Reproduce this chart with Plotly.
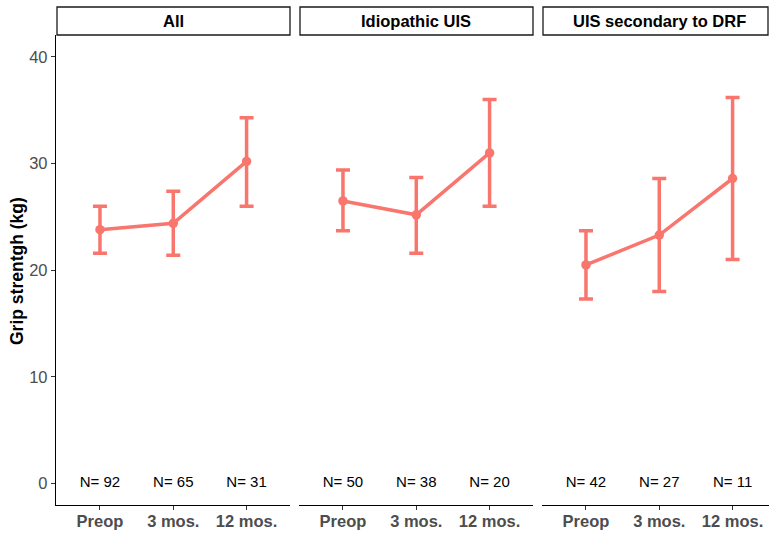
import plotly.graph_objects as go

# Grip strength (kg) by follow-up time, faceted by group
groups = ["All", "Idiopathic UIS", "UIS secondary to DRF"]
timepoints = ["Preop", "3 mos.", "12 mos."]

mean_all = [23.8, 24.4, 30.2]
low_all = [21.6, 21.4, 26.0]
high_all = [26.0, 27.4, 34.3]
n_all = [92, 65, 31]

mean_idio = [26.5, 25.2, 31.0]
low_idio = [23.7, 21.6, 26.0]
high_idio = [29.4, 28.7, 36.0]
n_idio = [50, 38, 20]

mean_drf = [20.5, 23.3, 28.6]
low_drf = [17.3, 18.0, 21.0]
high_drf = [23.7, 28.6, 36.2]
n_drf = [42, 27, 11]

means = [mean_all, mean_idio, mean_drf]
lows = [low_all, low_idio, low_drf]
highs = [high_all, high_idio, high_drf]
counts = [n_all, n_idio, n_drf]

W, H = 769, 533
RED = "#F8766D"
FONT = "Liberation Sans, Arial, sans-serif"

# panel pixel extents (left, right)
panels_px = [(56, 290), (299, 533), (542, 769)]
top_px, bottom_px = 35, 505
strip_top_px = 7
unit_px = 73.3  # pixels per category step

fig = go.Figure()
layout = {}
shapes = []
annotations = []

for i, (g, m, lo, hi, n) in enumerate(zip(groups, means, lows, highs, counts)):
    k = "" if i == 0 else str(i + 1)
    xa, ya = "x" + k, "y" + k
    fig.add_trace(go.Scatter(
        x=timepoints, y=m, xaxis=xa, yaxis=ya, mode="lines+markers",
        line=dict(color=RED, width=3.5), marker=dict(color=RED, size=9.5),
        error_y=dict(type="data", symmetric=False,
                     array=[h - v for h, v in zip(hi, m)],
                     arrayminus=[v - l for v, l in zip(m, lo)],
                     color=RED, thickness=3.5, width=7),
        showlegend=False, hoverinfo="skip"))
    fig.add_trace(go.Scatter(
        x=timepoints, y=[0] * 3, xaxis=xa, yaxis=ya, mode="text",
        text=[f"N= {c}" for c in n], textposition="middle center",
        textfont=dict(family=FONT, size=15, color="black"),
        showlegend=False, hoverinfo="skip"))

    left, right = panels_px[i]
    full_right = left + 3.2 * unit_px
    xmax = 2.6 - max(0.0, full_right - right) / unit_px
    layout["xaxis" + k] = dict(
        domain=[left / W, right / W], anchor=ya, type="category",
        categoryorder="array", categoryarray=timepoints,
        range=[-0.6, xmax], showgrid=False, zeroline=False,
        showline=True, linecolor="black", linewidth=1.3,
        ticks="outside", ticklen=4, tickcolor="#333333", tickwidth=1.1,
        ticklabelstandoff=-3,
        tickfont=dict(family=FONT, size=16.5, color="#4d4d4d", weight="bold"))
    layout["yaxis" + k] = dict(
        domain=[1 - bottom_px / H, 1 - top_px / H], anchor=xa,
        range=[-2, 42.05], showgrid=False, zeroline=False,
        tickvals=[0, 10, 20, 30, 40],
        showline=(i == 0), linecolor="black", linewidth=1.3,
        ticks="outside" if i == 0 else "", ticklen=4,
        tickcolor="#333333", tickwidth=1.1, showticklabels=(i == 0),
        tickfont=dict(family=FONT, size=16.5, color="#4d4d4d"))

    # facet strip
    shapes.append(dict(type="rect", xref="paper", yref="paper",
                       x0=(left + 1) / W, x1=min(right, W - 1) / W,
                       y0=1 - top_px / H, y1=1 - strip_top_px / H,
                       line=dict(color="#1a1a1a", width=1.3),
                       fillcolor="white"))
    annotations.append(dict(text=f"<b>{g}</b>", xref="paper", yref="paper",
                            x=(left + left + 3.2 * unit_px) / 2 / W,
                            y=1 - (top_px + strip_top_px) / 2 / H,
                            showarrow=False, xanchor="center", yanchor="middle",
                            font=dict(family=FONT, size=16.5, color="black")))

annotations.append(dict(text="<b>Grip strentgh (kg)</b>", xref="paper", yref="paper",
                        x=17 / W, y=1 - (196 + 346) / 2 / H,
                        textangle=-90, showarrow=False,
                        xanchor="center", yanchor="middle",
                        font=dict(family=FONT, size=17.5, color="black")))

fig.update_layout(width=W, height=H, margin=dict(l=0, r=0, t=0, b=0),
                  plot_bgcolor="white", paper_bgcolor="white",
                  shapes=shapes, annotations=annotations, **layout)

fig.write_html("out.html")
